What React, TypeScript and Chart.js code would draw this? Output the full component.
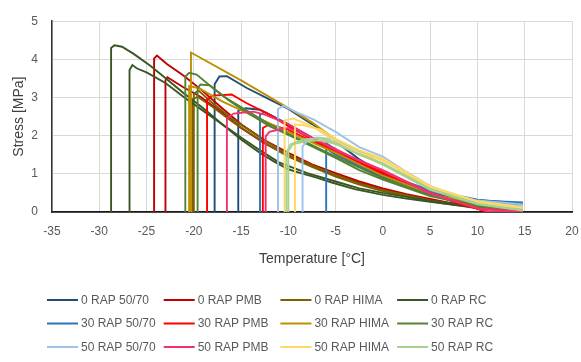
import React, { useEffect, useRef } from "react";
import { Chart, registerables } from "chart.js";

Chart.register(...registerables);

// ---------- DATA ----------
const seriesNames = [
  "0 RAP 50/70", "0 RAP PMB", "0 RAP HIMA", "0 RAP RC",
  "30 RAP 50/70", "30 RAP PMB", "30 RAP HIMA", "30 RAP RC",
  "50 RAP 50/70", "50 RAP PMB", "50 RAP HIMA", "50 RAP RC",
];
const seriesColors = [
  "#1F4E79", "#C00000", "#7F6000", "#385723",
  "#2E75B6", "#FF0000", "#BF9000", "#548235",
  "#9DC3E6", "#F5306E", "#FFD966", "#A9D18E",
];

const xTicks = [-35, -30, -25, -20, -15, -10, -5, 0, 5, 10, 15, 20];
const yTicks = [0, 1, 2, 3, 4, 5];

// 0 RAP 50/70
const r0_5070_T1 = [-17.8, -17.8, -17.3, -16.5, -14.4, -12, -10, -7.5, -5, -2.5, 0, 2.5, 5, 7.5, 10, 12.5, 14.8];
const r0_5070_S1 = [0, 3.35, 3.55, 3.56, 3.25, 2.95, 2.7, 2.3, 1.85, 1.38, 1.02, 0.78, 0.56, 0.42, 0.31, 0.25, 0.22];
const r0_5070_T2 = [-15.3, -15.3, -14.5, -13, -10, -7.5, -5, -2.5, 0, 5, 10, 14.8];
const r0_5070_S2 = [0, 2.65, 2.72, 2.68, 2.3, 1.95, 1.55, 1.2, 0.92, 0.5, 0.27, 0.2];
// 0 RAP PMB
const r0_pmb_T1 = [-24.2, -24.2, -23.9, -22.85, -21.1, -19.3, -17, -15, -12.5, -10, -7.5, -5, -2.5, 0, 2.5, 5, 7.5, 10, 12.5, 14.8];
const r0_pmb_S1 = [0, 4.02, 4.1, 3.88, 3.58, 3.22, 2.72, 2.3, 1.88, 1.55, 1.25, 1.02, 0.8, 0.62, 0.47, 0.34, 0.22, 0.13, 0.07, 0.05];
const r0_pmb_T2 = [-23, -23, -22.8, -21.1, -19.3, -17, -15, -12.5, -10, -7.5, -5, -2.5, 0, 5, 10, 14.8];
const r0_pmb_S2 = [0, 3.45, 3.53, 3.27, 3.02, 2.6, 2.2, 1.8, 1.47, 1.2, 0.97, 0.76, 0.58, 0.31, 0.12, 0.04];
// 0 RAP HIMA
const r0_hima_T1 = [-20, -20, -19.5, -18, -16, -14, -12, -10, -7.5, -5, -2.5, 0, 5, 10, 14.8];
const r0_hima_S1 = [0, 3.1, 3.18, 2.85, 2.45, 2.12, 1.8, 1.5, 1.22, 0.97, 0.75, 0.57, 0.3, 0.11, 0.03];
const r0_hima_T2 = [-20.15, -20.15, -19.6, -18, -16, -14, -12, -10, -7.5, -5, -2.5, 0, 5, 10, 14.8];
const r0_hima_S2 = [0, 2.95, 3.02, 2.75, 2.38, 2.05, 1.74, 1.45, 1.18, 0.93, 0.72, 0.55, 0.28, 0.1, 0.02];
// 0 RAP RC
const r0_rc_T1 = [-28.75, -28.75, -28.4, -27.6, -26.4, -24.6, -22.85, -21, -19, -17, -15, -13, -11.5, -10, -8.7, -7, -5.5, -3, 0, 2.5, 5, 7.5, 10.3, 12.5, 14.8];
const r0_rc_S1 = [0, 4.3, 4.37, 4.33, 4.15, 3.83, 3.48, 3.1, 2.72, 2.3, 1.9, 1.55, 1.32, 1.12, 1.02, 0.9, 0.78, 0.6, 0.45, 0.35, 0.27, 0.19, 0.11, 0.06, 0.03];
const r0_rc_T2 = [-26.8, -26.8, -26.5, -26, -25, -23, -21, -19, -17, -15, -13, -11, -8, -5, -2.5, 0, 5, 10, 14.8];
const r0_rc_S2 = [0, 3.72, 3.85, 3.76, 3.66, 3.38, 3.0, 2.65, 2.3, 1.95, 1.62, 1.3, 1.02, 0.8, 0.62, 0.5, 0.29, 0.13, 0.05];
// 30 RAP 50/70
const r30_5070_T1 = [-13, -13, -12.5, -10, -7.5, -5, -2.5, 0, 5, 10, 14.8];
const r30_5070_S1 = [0, 2.55, 2.62, 2.3, 1.9, 1.5, 1.2, 0.95, 0.55, 0.3, 0.25];
const r30_5070_T2 = [-6, -6, -5.5, -2.5, 0, 5, 10, 14.8];
const r30_5070_S2 = [0, 1.8, 1.72, 1.28, 0.98, 0.58, 0.32, 0.22];
// 30 RAP PMB
const r30_pmb_T1 = [-18.6, -18.6, -18, -16, -14.4, -12, -10, -7.5, -5, -2.5, 0, 5, 8, 11, 14.8];
const r30_pmb_S1 = [0, 2.95, 3.05, 3.08, 2.85, 2.55, 2.25, 1.9, 1.6, 1.3, 1.05, 0.5, 0.25, 0, 0];
const r30_pmb_T2 = [-12.7, -12.7, -12, -10, -7.5, -5, 0, 5, 8, 11, 14.8];
const r30_pmb_S2 = [0, 2.2, 2.3, 2.15, 1.85, 1.55, 1.0, 0.48, 0.22, 0.02, 0];
// 30 RAP HIMA
const r30_hima_T1 = [-20.3, -20.3, -15, -10.8, -7.5, -5, -2.5, 0, 5, 10, 14.8];
const r30_hima_S1 = [0, 4.18, 3.45, 2.84, 2.35, 1.9, 1.55, 1.25, 0.62, 0.28, 0.1];
const r30_hima_T2 = [-20.5, -20.5, -19.5, -17, -14, -10, -5, 0, 5, 10, 14.8];
const r30_hima_S2 = [0, 3.3, 3.25, 2.9, 2.55, 2.1, 1.55, 0.95, 0.48, 0.2, 0.05];
// 30 RAP RC
const r30_rc_T1 = [-20.9, -20.9, -20.5, -19.7, -17.9, -16.1, -14, -12, -10, -7.5, -5, -2.5, 0, 5, 10, 14.8];
const r30_rc_S1 = [0, 3.55, 3.65, 3.6, 3.23, 2.89, 2.55, 2.25, 2.02, 1.72, 1.42, 1.1, 0.85, 0.42, 0.15, 0.03];
const r30_rc_T2 = [-19.6, -19.6, -19.3, -18.3, -16.5, -14, -12, -10, -7.5, -5, 0, 5, 10, 14.8];
const r30_rc_S2 = [0, 3.25, 3.34, 3.32, 2.97, 2.6, 2.3, 2.05, 1.75, 1.45, 0.88, 0.45, 0.17, 0.04];
// 50 RAP 50/70
const r50_5070_T1 = [-11.1, -11.1, -10.5, -9, -7.3, -5, -2.5, 0, 2.5, 5, 7.5, 10, 14.8];
const r50_5070_S1 = [0, 2.7, 2.78, 2.6, 2.42, 2.1, 1.7, 1.45, 1.05, 0.68, 0.45, 0.3, 0.2];
const r50_5070_T2 = [-8.5, -8.5, -8, -7, -5, -2.5, 0, 5, 10, 14.8];
const r50_5070_S2 = [0, 1.72, 1.85, 1.95, 1.9, 1.58, 1.38, 0.62, 0.27, 0.15];
// 50 RAP PMB
const r50_pmb_T1 = [-16.5, -16.5, -15.8, -13.7, -12.5, -10, -7.5, -5, -2.5, 0, 5, 8, 11, 14.8];
const r50_pmb_S1 = [0, 2.45, 2.58, 2.63, 2.55, 2.3, 1.95, 1.65, 1.35, 1.1, 0.5, 0.25, 0.02, 0];
const r50_pmb_T2 = [-12.4, -12.4, -12, -11.2, -10, -7.5, -5, 0, 5, 10, 14.8];
const r50_pmb_S2 = [0, 1.98, 2.1, 2.15, 2.2, 1.95, 1.62, 1.08, 0.48, 0.1, 0];
// 50 RAP HIMA
const r50_hima_T1 = [-9.3, -9.3, -8.5, -6.6, -5, -2.5, 0, 5, 10, 14.8];
const r50_hima_S1 = [0, 2.29, 2.28, 2.16, 1.92, 1.62, 1.4, 0.68, 0.28, 0.12];
const r50_hima_T2 = [-10.4, -10.4, -9.5, -7.5, -5, -2.5, 0, 5, 10, 14.8];
const r50_hima_S2 = [0, 2.4, 2.45, 2.25, 1.85, 1.55, 1.35, 0.65, 0.27, 0.1];
// 50 RAP RC
const r50_rc_T1 = [-10.2, -10.2, -9.8, -8.4, -6.6, -5, -2.5, 0, 5, 10, 14.8];
const r50_rc_S1 = [0, 1.55, 1.77, 1.9, 1.94, 1.82, 1.5, 1.28, 0.6, 0.22, 0.05];
const r50_rc_T2 = [-10, -10, -9.5, -8, -6.5, -5, 0, 5, 10, 14.8];
const r50_rc_S2 = [0, 1.6, 1.78, 1.86, 1.88, 1.78, 1.24, 0.58, 0.2, 0.04];

// [series index, temperatures, stresses]
const replicates: [number, number[], number[]][] = [
  [0, r0_5070_T1, r0_5070_S1], [0, r0_5070_T2, r0_5070_S2],
  [1, r0_pmb_T1, r0_pmb_S1], [1, r0_pmb_T2, r0_pmb_S2],
  [2, r0_hima_T1, r0_hima_S1], [2, r0_hima_T2, r0_hima_S2],
  [3, r0_rc_T1, r0_rc_S1], [3, r0_rc_T2, r0_rc_S2],
  [4, r30_5070_T1, r30_5070_S1], [4, r30_5070_T2, r30_5070_S2],
  [5, r30_pmb_T1, r30_pmb_S1], [5, r30_pmb_T2, r30_pmb_S2],
  [6, r30_hima_T1, r30_hima_S1], [6, r30_hima_T2, r30_hima_S2],
  [7, r30_rc_T1, r30_rc_S1], [7, r30_rc_T2, r30_rc_S2],
  [8, r50_5070_T1, r50_5070_S1], [8, r50_5070_T2, r50_5070_S2],
  [9, r50_pmb_T1, r50_pmb_S1], [9, r50_pmb_T2, r50_pmb_S2],
  [10, r50_hima_T1, r50_hima_S1], [10, r50_hima_T2, r50_hima_S2],
  [11, r50_rc_T1, r50_rc_S1], [11, r50_rc_T2, r50_rc_S2],
];

// ---------- STYLE ----------
const FONT = '"Liberation Sans", Arial, sans-serif';
const TEXT = "#595959";

const gridLegend = {
  id: "gridLegend",
  afterDraw(chart: any) {
    const ctx = chart.ctx;
    ctx.save();
    ctx.font = `12px ${FONT}`;
    ctx.textBaseline = "middle";
    ctx.textAlign = "left";
    seriesNames.forEach((name, i) => {
      const col = i % 4;
      const row = Math.floor(i / 4);
      const x = 47 + col * 116.7;
      const y = 300 + row * 23.5;
      ctx.strokeStyle = seriesColors[i];
      ctx.lineWidth = 2;
      ctx.beginPath();
      ctx.moveTo(x, y);
      ctx.lineTo(x + 31, y);
      ctx.stroke();
      ctx.fillStyle = TEXT;
      ctx.fillText(name, x + 34, y + 0.5);
    });
    ctx.restore();
  },
};

export default function App() {
  const ref = useRef<HTMLCanvasElement | null>(null);

  useEffect(() => {
    if (!ref.current) return;
    const datasets = replicates.map(([si, ts, ss], idx) => ({
      label: seriesNames[si],
      data: ts.map((t, k) => ({ x: t, y: ss[k] })),
      borderColor: seriesColors[si],
      backgroundColor: seriesColors[si],
      borderWidth: 1.9,
      pointRadius: 0,
      tension: 0,
      fill: false,
      order: -idx,
    }));
    const chart = new Chart(ref.current, {
      type: "line",
      data: { datasets },
      options: {
        responsive: false,
        animation: false,
        devicePixelRatio: 1,
        layout: { padding: { left: 0, right: 1, top: 14, bottom: 90 } },
        plugins: { legend: { display: false }, tooltip: { enabled: false } },
        scales: {
          x: {
            type: "linear",
            min: xTicks[0],
            max: xTicks[xTicks.length - 1],
            afterBuildTicks: (s: any) => { s.ticks = xTicks.map((v) => ({ value: v })); },
            ticks: { color: TEXT, font: { family: FONT, size: 12 }, padding: 12, maxRotation: 0 },
            grid: { color: "#D9D9D9", drawTicks: false, lineWidth: 1 },
            border: { color: "#1A1A1A", width: 1.8 },
            title: { display: true, text: "Temperature [°C]", color: "#404040", font: { family: FONT, size: 14 }, padding: { top: 4, bottom: 4 } },
            afterFit: (s: any) => { s.height = 60; s.paddingRight = 9; s.paddingLeft = 0; },
          },
          y: {
            type: "linear",
            min: yTicks[0],
            max: yTicks[yTicks.length - 1],
            afterBuildTicks: (s: any) => { s.ticks = yTicks.map((v) => ({ value: v })); },
            ticks: { color: TEXT, font: { family: FONT, size: 12 }, padding: 14 },
            grid: { color: "#D9D9D9", drawTicks: false, lineWidth: 1 },
            border: { color: "#333333", width: 1.5 },
            title: { display: true, text: "Stress [MPa]", color: "#404040", font: { family: FONT, size: 14 }, padding: { top: 11, bottom: 4 } },
            afterFit: (s: any) => { s.width = 52; },
          },
        },
      },
      plugins: [gridLegend],
    });
    return () => chart.destroy();
  }, []);

  return (
    <div style={{ position: "absolute", left: 0, top: 0, width: 581, height: 362, background: "#fff" }}>
      <canvas ref={ref} width={581} height={362} style={{ display: "block" }} />
    </div>
  );
}
